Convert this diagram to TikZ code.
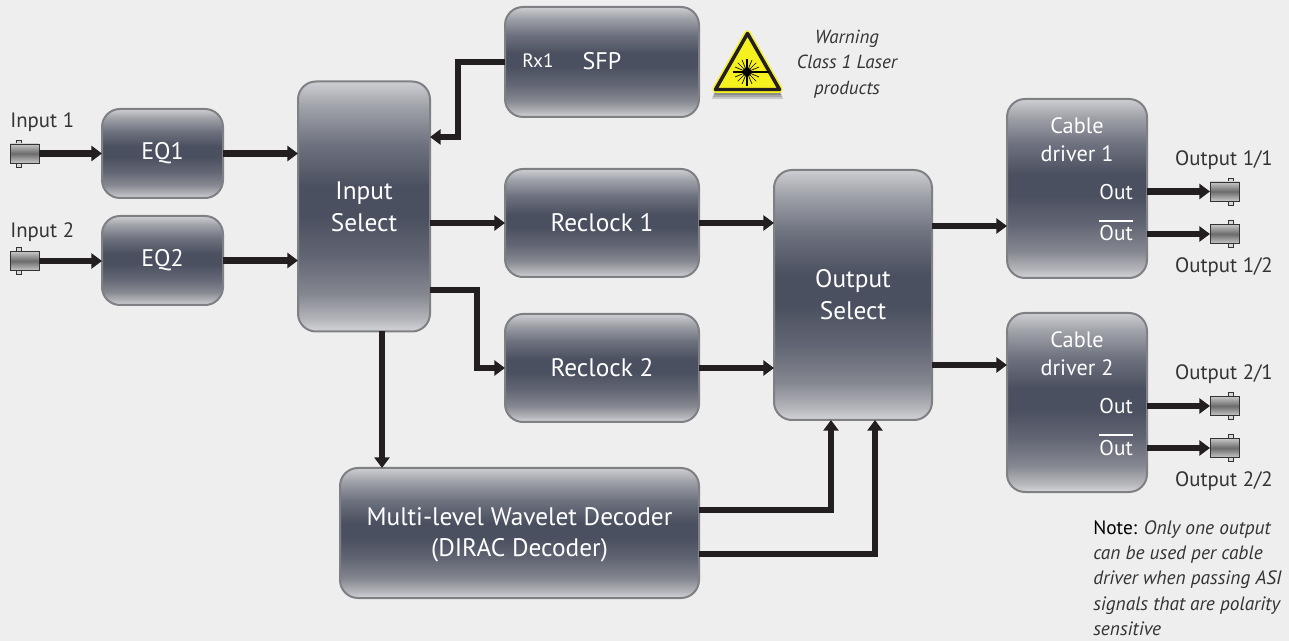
\documentclass[tikz,border=0pt]{standalone}
\usepackage{fontspec}
\setmainfont{PT Sans}
\usetikzlibrary{arrows.meta}
\definecolor{pagegrey}{HTML}{EEEEEE}
\definecolor{edgegrey}{HTML}{7F8084}
\definecolor{wiregrey}{HTML}{231F20}
\definecolor{inkgrey}{HTML}{333333}
\definecolor{lasery}{HTML}{F5F01E}
\definecolor{shadea}{HTML}{D4D5D8}
\definecolor{shadeb}{HTML}{B4B5BA}
\definecolor{shadec}{HTML}{858790}
\definecolor{shaded}{HTML}{626674}
\definecolor{shadee}{HTML}{4B5060}
\definecolor{shadef}{HTML}{6E727F}
\definecolor{shadeg}{HTML}{A0A2A9}
\definecolor{shadeh}{HTML}{CDCED2}
\pgfdeclareverticalshading{blockshade}{100bp}{%
  color(0bp)=(shadea);color(25bp)=(shadea);color(27.5bp)=(shadeb);color(32.5bp)=(shadec);
  color(40bp)=(shaded);color(48bp)=(shadee);color(54bp)=(shadee);color(62.5bp)=(shadef);
  color(70bp)=(shadeg);color(75bp)=(shadeh);color(100bp)=(shadeh)}
\tikzset{
  sized/.style 2 args={minimum width=#1*0.75pt, minimum height=#2*0.75pt},
  blockbox/.style={draw=edgegrey, line width=1.5pt, rounded corners=13.5pt, shading=blockshade,
    inner sep=0pt, outer sep=0pt, align=center, text=white, font=\fontsize{19}{24}\selectfont},
  sigline/.style={line width=4.6pt, color=wiregrey, -{Triangle[length=8pt, width=11.25pt]}},
  bnc/.style={draw=black!80, line width=0.6pt, inner sep=0pt, outer sep=0pt, sized={29}{19},
    top color=black!22, bottom color=black!22, middle color=black!58},
  lug/.style={draw=black!80, line width=0.6pt, fill=black!15},
  portlabel/.style={text=inkgrey, font=\fontsize{15.6}{18}\selectfont, inner sep=0pt},
}
\begin{document}
\begin{tikzpicture}[x=0.75pt, y=-0.75pt]
  \fill[pagegrey] (0,0) rectangle (1289,641);
  \useasboundingbox (0,0) rectangle (1289,641);
  % Blocks
  \node[blockbox, sized={121}{89}, font=\fontsize{18}{24}\selectfont] (EQA) at (162.5,153.5) {EQ1};
  \node[blockbox, sized={121}{89}, font=\fontsize{18}{24}\selectfont] (EQB) at (162.5,260.5) {EQ2};
  \node[blockbox, sized={132}{250}] (InSel) at (364,206.5) {Input\\Select};
  \node[blockbox, sized={194}{110}] (SFP) at (602,62) {};
  \node[blockbox, sized={194}{108}] (ClkA) at (602,223) {Reclock 1};
  \node[blockbox, sized={194}{108}] (ClkB) at (602,368) {Reclock 2};
  \node[blockbox, sized={158}{250}] (OutSel) at (853,295) {Output\\Select};
  \node[blockbox, sized={140}{179}] (DrvA) at (1077,188.5) {};
  \node[blockbox, sized={140}{179}] (DrvB) at (1077,402.5) {};
  \node[blockbox, sized={359}{130}] (Dirac) at (519.5,533) {};
  % Text inside the blocks
  \node[text=white, align=center, font=\fontsize{19}{23.5}\selectfont] (DiracTxt) at (519.5,535) {Multi-level Wavelet Decoder\\(DIRAC Decoder)};
  \node[text=white, font=\fontsize{14.5}{16}\selectfont] (RxA) at (538,61) {Rx1};
  \node[text=white, font=\fontsize{18}{24}\selectfont] (SFPtxt) at (602,61) {SFP};
  \node[text=white, align=center, font=\fontsize{16.7}{21}\selectfont] (DrvAtxt) at (1077,140) {Cable\\driver 1};
  \node[text=white, align=center, font=\fontsize{16.7}{21}\selectfont] (DrvBtxt) at (1077,354) {Cable\\driver 2};
  \foreach \nm/\yy in {OutAa/192, OutAb/233, OutBa/406, OutBb/448}
    \node[text=white, anchor=east, inner sep=0pt, font=\fontsize{16}{18}\selectfont] (\nm txt) at (1133,\yy) {Out};
  \draw[white, line width=1.1pt] (1099,221) -- (1133,221);
  \draw[white, line width=1.1pt] (1099,435) -- (1133,435);
  % BNC connectors
  \foreach \nm/\xx/\yy/\lx in {InA/24.5/153.5/18.5, InB/24.5/261/18.5, OutAa/1224.5/191.5/1230.5,
      OutAb/1224.5/234/1230.5, OutBa/1224.5/406/1230.5, OutBb/1224.5/448/1230.5} {
    \draw[lug] (\lx-2.5,\yy-13.5) rectangle (\lx+2.5,\yy+13.5);
    \node[bnc] (\nm) at (\xx,\yy) {};
  }
  % Connectors
  \draw[sigline] (InA.east) -- (EQA.west |- InA.east);
  \draw[sigline] (InB.east) -- (EQB.west |- InB.east);
  \draw[sigline] (EQA.east) -- (EQA.east -| InSel.west);
  \draw[sigline] (EQB.east) -- (EQB.east -| InSel.west);
  \coordinate (RxTurn) at (458,62);
  \coordinate (RxDrop) at (458,137);
  \draw[sigline] (SFP.west) -- (RxTurn) -- (RxDrop) -- (RxDrop -| InSel.east);
  \draw[sigline] (ClkA.west -| InSel.east) -- (ClkA.west);
  \coordinate (ClkTurn) at (477,290);
  \draw[sigline] (ClkTurn -| InSel.east) -- (ClkTurn) -- (ClkTurn |- ClkB.west) -- (ClkB.west);
  \draw[sigline] (ClkA.east) -- (ClkA.east -| OutSel.west);
  \draw[sigline] (ClkB.east) -- (ClkB.east -| OutSel.west);
  \coordinate (DrvDown) at (382,331);
  \draw[sigline] (DrvDown) -- (DrvDown |- Dirac.north);
  \coordinate (DecA) at (831,510);
  \coordinate (DecB) at (875,554);
  \draw[sigline] (DecA -| Dirac.east) -- (DecA) -- (DecA |- OutSel.south);
  \draw[sigline] (DecB -| Dirac.east) -- (DecB) -- (DecB |- OutSel.south);
  \draw[sigline] (OutSel.east |- 0,226) -- (DrvA.west |- 0,226);
  \draw[sigline] (OutSel.east |- 0,365) -- (DrvB.west |- 0,365);
  \foreach \nm/\dv in {OutAa/DrvA, OutAb/DrvA, OutBa/DrvB, OutBb/DrvB}
    \draw[sigline] (\dv.east |- \nm.west) -- (\nm.west);
  % Port labels
  \node[portlabel, anchor=west] (InAlab) at (10,122) {Input 1};
  \node[portlabel, anchor=west] (InBlab) at (10,232) {Input 2};
  \node[portlabel] (OutAalab) at (1224,160) {Output 1/1};
  \node[portlabel] (OutAblab) at (1224,267) {Output 1/2};
  \node[portlabel] (OutBalab) at (1224,374) {Output 2/1};
  \node[portlabel] (OutBblab) at (1224,481) {Output 2/2};
  % Laser warning sign
  \foreach \dd in {1,3,5,7}
    \fill[black, opacity=0.16] (747.5,42) -- (781+\dd/3,92+\dd) -- (714-\dd/3,92+\dd) -- cycle;
  \draw[lasery, fill=lasery, line width=4.9pt, line join=round] (747.5,33.5) -- (779.5,89.5) -- (715.5,89.5) -- cycle;
  \draw[wiregrey, line width=2.6pt, line join=round] (747.5,33.5) -- (779.5,89.5) -- (715.5,89.5) -- cycle;
  \draw[black, line width=1pt] (733,72) -- (769,72) (747,59) -- (747,86);
  \foreach \ang in {0,22.5,...,337.5}
    \draw[black, line width=0.5pt] (747,72) -- ++(\ang:13);
  \fill[black] (747,72) circle (4.5);
  \node[text=inkgrey, align=center, font=\fontsize{14.2}{19}\selectfont\itshape] (warn) at (847,64) {Warning\\Class 1 Laser\\products};
  % Note
  \node[text=inkgrey, anchor=north west, align=left, inner sep=0pt, font=\fontsize{14.5}{19}\selectfont\itshape] (note) at (1093,520)
    {\textcolor{black}{\upshape Note:} Only one output\\can be used per cable\\driver when passing ASI\\signals that are polarity\\sensitive};
\end{tikzpicture}
\end{document}
